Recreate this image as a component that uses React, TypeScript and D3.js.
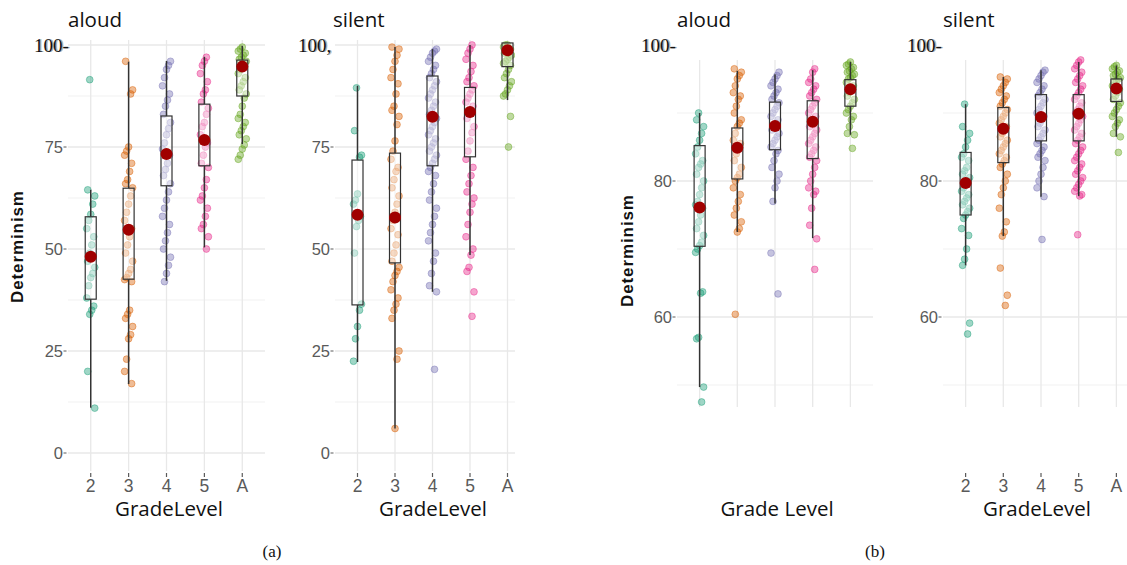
import React from 'react';
import * as d3 from 'd3';

// ---------- data ----------
const GRADES = ['2', '3', '4', '5', 'A'];
const GRADE_COLORS = ['#1B9E77', '#D95F02', '#7570B3', '#E7298A', '#66A61E'];

// (a) aloud
const aAloudG2 = [91.5, 64.5, 63, 61, 58.5, 57, 55, 53, 51, 49, 47, 45.5, 44, 43, 41, 38, 36, 35, 34, 20, 11];
const aAloudG3 = [96, 89, 88, 75, 74, 73, 71, 69, 67, 66, 65, 63, 61, 59, 57, 55, 53, 51, 49, 47, 45, 44, 43, 42.5, 42, 35, 34, 33, 31, 29, 28, 23, 20, 17];
const aAloudG4 = [96, 95, 94, 92, 90, 88, 86.5, 85, 83, 81, 79.5, 78, 76, 74.5, 73, 71, 69.5, 68, 66, 64, 62, 60, 58, 56, 54, 52, 50, 48, 46, 44, 42];
const aAloudG5 = [97, 96, 95, 93, 91, 89, 88, 86, 84.5, 83, 81, 80, 78, 76, 75, 73, 71, 70, 67, 65, 63, 62, 60, 58, 56, 55, 53, 50];
const aAloudGA = [99.5, 99, 98.5, 98, 97.5, 97, 96.5, 96, 95.5, 95, 94, 93, 92, 91, 90, 89, 88, 87, 85, 83, 82, 81, 80, 79, 78, 77, 75.5, 74.5, 73, 72];
const aAloudQ1 = [37.7, 42.6, 65.5, 70.4, 87.5];
const aAloudQ3 = [57.9, 64.9, 82.6, 85.5, 96.3];
const aAloudLow = [11.1, 16.9, 42.2, 50.4, 75.7];
const aAloudHigh = [64.5, 95.9, 96.1, 97.1, 99.8];
const aAloudMean = [48.1, 54.7, 73.3, 76.7, 94.7];

// (a) silent
const aSilentG2 = [89.5, 79, 73, 72.5, 63.5, 62, 61, 58, 57, 55.5, 49, 36.5, 35, 31, 28, 22.5];
const aSilentG3 = [99.5, 99, 97.5, 96, 94, 92, 90.5, 88, 85, 84, 82.5, 80.5, 76.5, 74, 72, 70, 69, 67, 65, 63, 61, 59, 57, 55, 53.5, 51, 49, 47, 45.5, 44.5, 43.5, 42, 40, 38, 36.5, 35, 33, 25, 23, 6];
const aSilentG4 = [99, 98.5, 98, 97, 96, 95, 94, 93, 92, 91, 90, 89, 88, 87, 86, 85, 84, 83, 82, 81, 80, 79, 78, 77, 76, 75, 74, 73, 72, 71, 70, 69, 68, 66, 64, 62, 60, 58, 56, 54, 52, 49, 47, 44, 41, 39.5, 20.5];
const aSilentG5 = [100, 99, 98, 96.5, 95, 93.5, 92, 91, 90, 89, 88, 87, 86, 85, 84, 83, 82, 80, 78.5, 76.5, 74, 72, 70, 68, 66, 64, 62.5, 61, 59, 56, 53, 50, 48.5, 45.5, 44.5, 39.5, 33.5];
const aSilentGA = [100, 100, 99.5, 99, 99, 98.5, 98, 97.5, 97, 96.5, 96, 95.5, 95, 94, 93, 92, 91, 90, 89, 88, 87.5, 82.5, 75];
const aSilentQ1 = [36.3, 46.6, 70.4, 72.6, 94.7];
const aSilentQ3 = [71.8, 73.5, 92.4, 89.6, 100.5];
const aSilentLow = [22.3, 6, 39.5, 48.5, 86.5];
const aSilentHigh = [90, 99.5, 99, 100, 100.5];
const aSilentMean = [58.4, 57.7, 82.4, 83.6, 98.7];

// (b) aloud
const bAloudG2 = [90, 89, 88, 87, 86, 85, 84, 83, 82.5, 82, 81, 80, 79, 78, 77, 76.5, 76, 75, 74, 73, 72, 71, 70.5, 70, 69.5, 63.7, 63.5, 57, 56.8, 49.7, 47.5];
const bAloudG3 = [96.5, 96, 95.5, 95, 94, 93, 92.5, 92, 91, 90, 89, 88.5, 88, 87, 86, 85.5, 85, 84, 83, 82, 81, 80.5, 80, 79, 78, 77, 76, 75, 74, 73, 72.5, 60.4];
const bAloudG4 = [96, 95.5, 95, 94.5, 94, 93.5, 93, 92.5, 92, 91.5, 91, 90.5, 90, 89.5, 89, 88.5, 88, 87.5, 87, 86.5, 86, 85.5, 85, 84.5, 84, 83, 82, 81, 80, 79, 77, 69.4, 63.4];
const bAloudG5 = [96.5, 96, 95, 94.5, 94, 93.5, 93, 92.5, 92, 91.5, 91, 90.5, 90, 89.5, 89, 88.5, 88, 87.5, 87, 86.5, 86, 85.5, 85, 84.5, 84, 83.5, 83, 82, 81, 80, 79, 78.5, 78, 76, 73.5, 71.5, 67];
const bAloudGA = [97.5, 97.2, 97, 96.7, 96.5, 96.2, 96, 95.7, 95.5, 95.2, 95, 94.5, 94, 93.5, 93, 92.5, 92, 91.5, 91, 90.5, 90, 89.5, 89, 88, 87, 86.8, 84.8];
const bAloudQ1 = [70.4, 80.3, 84.6, 83.3, 91];
const bAloudQ3 = [85.2, 87.8, 91.6, 91.8, 94.9];
const bAloudLow = [49.7, 72.5, 76.7, 71.6, 86.8];
const bAloudHigh = [90, 96.2, 95.7, 96.3, 97.5];
const bAloudMean = [76.1, 84.9, 88.1, 88.7, 93.5];

// (b) silent
const bSilentG2 = [91.3, 88, 87, 86, 85, 84, 83.5, 83, 82, 81.5, 81, 80.5, 80, 79.5, 79, 78.5, 78, 77.5, 77, 76.5, 76, 75.5, 75, 74.5, 73, 72, 70, 68.5, 67.6, 59.1, 57.5];
const bSilentG3 = [95.3, 95, 94.5, 94, 93.5, 93, 92.5, 92, 91.5, 91, 90.5, 90, 89.5, 89, 88.5, 88, 87.5, 87, 86.5, 86, 85.5, 85, 84.5, 84, 83.5, 83, 82.5, 82, 81, 80, 79, 78, 76, 74, 72.5, 71.9, 67.2, 63.2, 61.7];
const bSilentG4 = [96.3, 96, 95.5, 95, 94.5, 94, 93.5, 93, 92.5, 92, 91.5, 91, 90.5, 90, 89.5, 89, 88.5, 88, 87.5, 87, 86.5, 86, 85.5, 85, 84.5, 84, 83.5, 83, 82, 81, 80, 79, 77.7, 71.4];
const bSilentG5 = [97.8, 97.5, 97, 96.5, 96, 95.5, 95, 94.5, 94, 93.5, 93, 92.5, 92, 91.5, 91, 90.5, 90, 89.5, 89, 88.5, 88, 87.5, 87, 86.5, 86, 85.5, 85, 84.5, 84, 83.5, 83, 82.5, 82, 81.5, 81, 80.5, 80, 79.5, 79, 78.5, 78, 77.8, 72.1];
const bSilentGA = [97, 96.8, 96.5, 96.2, 96, 95.7, 95.5, 95.2, 95, 94.7, 94.5, 94, 93.5, 93, 92.5, 92, 91.5, 91, 90.5, 90, 89.5, 89, 88.5, 88, 87, 86.5, 84.2];
const bSilentQ1 = [75, 82.7, 85.9, 85.9, 91.7];
const bSilentQ3 = [84.2, 90.8, 92.7, 92.7, 95];
const bSilentLow = [67.6, 71.9, 77.7, 77.8, 86.5];
const bSilentHigh = [91.3, 95.3, 96.3, 97.5, 97];
const bSilentMean = [79.7, 87.7, 89.4, 89.9, 93.6];

const A_TICKS = [0, 25, 50, 75];
const A_MINOR = [12.5, 37.5, 62.5, 87.5];
const B_TICKS = [60, 80];
const B_MINOR = [50, 70, 90];

// ---------- layout ----------
const SANS = '"Liberation Sans", Arial, sans-serif';
const TITLE_FONT = '"Open Sans", sans-serif';
const SERIF = '"Liberation Serif", "Times New Roman", serif';

type PanelSpec = {
  id: string;
  x0: number; x1: number; clipX1: number;
  top: number; bottom: number;
  yDomain: [number, number]; yRange: [number, number];
  ticks: number[]; minor: number[]; majorTop: number | null;
  groups: number[][]; q1: number[]; q3: number[]; low: number[]; high: number[]; mean: number[];
  title: string; titleX: number;
  xTitle: string; xTitleX: number;
  showXTicks: boolean;
  serifLabel: string; serifX: number;
  yLabelX: number | null; yLabelY: number;
};

const panels: PanelSpec[] = [
  {
    id: 'aa', x0: 68, x1: 265, clipX1: 265, top: 40, bottom: 471,
    yDomain: [0, 100], yRange: [453, 45], ticks: A_TICKS, minor: A_MINOR, majorTop: 100,
    groups: [aAloudG2, aAloudG3, aAloudG4, aAloudG5, aAloudGA],
    q1: aAloudQ1, q3: aAloudQ3, low: aAloudLow, high: aAloudHigh, mean: aAloudMean,
    title: 'aloud', titleX: 68, xTitle: 'GradeLevel', xTitleX: 169, showXTicks: true,
    serifLabel: '100-', serifX: 34, yLabelX: 17, yLabelY: 247,
  },
  {
    id: 'as', x0: 335, x1: 530, clipX1: 515, top: 40, bottom: 471,
    yDomain: [0, 100], yRange: [453, 45], ticks: A_TICKS, minor: A_MINOR, majorTop: 100,
    groups: [aSilentG2, aSilentG3, aSilentG4, aSilentG5, aSilentGA],
    q1: aSilentQ1, q3: aSilentQ3, low: aSilentLow, high: aSilentHigh, mean: aSilentMean,
    title: 'silent', titleX: 333, xTitle: 'GradeLevel', xTitleX: 433, showXTicks: true,
    serifLabel: '100,', serifX: 298, yLabelX: null, yLabelY: 0,
  },
  {
    id: 'ba', x0: 677, x1: 873, clipX1: 873, top: 60, bottom: 407,
    yDomain: [60, 80], yRange: [317, 181], ticks: B_TICKS, minor: B_MINOR, majorTop: null,
    groups: [bAloudG2, bAloudG3, bAloudG4, bAloudG5, bAloudGA],
    q1: bAloudQ1, q3: bAloudQ3, low: bAloudLow, high: bAloudHigh, mean: bAloudMean,
    title: 'aloud', titleX: 677, xTitle: 'Grade Level', xTitleX: 777, showXTicks: false,
    serifLabel: '100-', serifX: 641, yLabelX: 627, yLabelY: 251,
  },
  {
    id: 'bs', x0: 943, x1: 1139, clipX1: 1127, top: 60, bottom: 407,
    yDomain: [60, 80], yRange: [317, 181], ticks: B_TICKS, minor: B_MINOR, majorTop: null,
    groups: [bSilentG2, bSilentG3, bSilentG4, bSilentG5, bSilentGA],
    q1: bSilentQ1, q3: bSilentQ3, low: bSilentLow, high: bSilentHigh, mean: bSilentMean,
    title: 'silent', titleX: 943, xTitle: 'GradeLevel', xTitleX: 1037, showXTicks: true,
    serifLabel: '100-', serifX: 907, yLabelX: null, yLabelY: 0,
  },
];

const jitter = (i: number) => ((((i * 7 + 3) % 9) - 4) * 1.0);

function Panel({ p }: { p: PanelSpec }) {
  const x = d3.scalePoint<string>().domain(GRADES).range([p.x0, p.x1]).padding(0.6);
  const y = d3.scaleLinear().domain(p.yDomain).range(p.yRange);
  const boxW = 11;
  const clipId = `clip-${p.id}`;
  const majors = p.majorTop !== null ? [...p.ticks, p.majorTop] : p.ticks;
  const inPlot = (v: number) => y(v) >= p.top - 0.5 && y(v) <= p.bottom + 0.5;
  return (
    <g>
      <defs>
        <clipPath id={clipId}>
          <rect x={p.x0} y={p.top - 8} width={p.clipX1 - p.x0} height={p.bottom - p.top + 16} />
        </clipPath>
      </defs>
      <g clipPath={`url(#${clipId})`}>
        {p.minor.filter(inPlot).map((v) => (
          <line key={`mn${v}`} x1={p.x0} x2={p.x1} y1={y(v)} y2={y(v)} stroke="#EDEDED" strokeWidth={0.8} />
        ))}
        {majors.filter(inPlot).map((v) => (
          <line key={`mj${v}`} x1={p.x0} x2={p.x1} y1={y(v)} y2={y(v)} stroke="#E8E8E8" strokeWidth={1.3} />
        ))}
        {GRADES.map((g) => (
          <line key={`vg${g}`} x1={x(g)!} x2={x(g)!} y1={p.top} y2={p.bottom} stroke="#E8E8E8" strokeWidth={1.3} />
        ))}
        {p.groups.map((vals, gi) =>
          vals.map((v, i) => (
            <circle
              key={`pt${gi}-${i}`}
              cx={x(GRADES[gi])! + jitter(i + gi)}
              cy={y(v)}
              r={3.4}
              fill={GRADE_COLORS[gi]}
              fillOpacity={0.42}
              stroke={GRADE_COLORS[gi]}
              strokeOpacity={0.55}
              strokeWidth={0.8}
            />
          ))
        )}
        {GRADES.map((g, gi) => {
          const cx = x(g)!;
          return (
            <g key={`bx${g}`}>
              <line x1={cx} x2={cx} y1={y(p.low[gi])} y2={y(p.q1[gi])} stroke="#333" strokeWidth={1.5} />
              <line x1={cx} x2={cx} y1={y(p.q3[gi])} y2={y(p.high[gi])} stroke="#333" strokeWidth={1.5} />
              <rect
                x={cx - boxW / 2}
                y={y(p.q3[gi])}
                width={boxW}
                height={y(p.q1[gi]) - y(p.q3[gi])}
                fill="#fff"
                fillOpacity={0.45}
                stroke="#333"
                strokeWidth={1.2}
              />
            </g>
          );
        })}
        {GRADES.map((g, gi) => (
          <circle key={`mean${g}`} cx={x(g)!} cy={y(p.mean[gi])} r={6} fill="#A00000" />
        ))}
      </g>
      {p.ticks.map((v) => (
        <g key={`yt${v}`}>
          <text x={p.x0 - 5} y={y(v)} dy="0.36em" textAnchor="end" fontFamily={SANS} fontSize={16.5} fill="#5a5a5a">
            {v}
          </text>
          <line x1={p.x0 - 4.5} x2={p.x0 - 1.5} y1={y(v)} y2={y(v)} stroke="#5a5a5a" strokeWidth={1} />
        </g>
      ))}
      <text x={p.serifX} y={y(100) + 6.5} fontFamily={SERIF} fontSize={19} fill="#111">{p.serifLabel}</text>
      <text x={p.serifX + 1.6} y={y(100) + 6.5} fontFamily={SERIF} fontSize={19} fill="#111" fillOpacity={0.35}>{p.serifLabel}</text>
      {p.showXTicks &&
        GRADES.map((g) => (
          <g key={`xt${g}`}>
            <line x1={x(g)!} x2={x(g)!} y1={473} y2={477} stroke="#5a5a5a" strokeWidth={1.2} />
            <text x={x(g)!} y={492} textAnchor="middle" fontFamily={SANS} fontSize={17.5} fill="#5a5a5a">{g}</text>
          </g>
        ))}
      <text x={p.titleX} y={27} fontFamily={TITLE_FONT} fontSize={20.5} fill="#111">{p.title}</text>
      <text x={p.xTitleX} y={516} textAnchor="middle" fontFamily={TITLE_FONT} fontSize={20.5} fill="#111">{p.xTitle}</text>
      {p.yLabelX !== null && (
        <text
          transform={`translate(${p.yLabelX + 6},${p.yLabelY}) rotate(-90)`}
          textAnchor="middle"
          fontFamily={SANS}
          fontWeight="bold"
          fontSize={17}
          fill="#111"
          textLength={112}
          lengthAdjust="spacing"
        >
          Determinism
        </text>
      )}
    </g>
  );
}

export default function App() {
  return (
    <svg
      width={1127}
      height={565}
      viewBox="0 0 1127 565"
      style={{ position: 'absolute', left: 0, top: 0, background: '#fff' }}
    >
      <rect x={0} y={0} width={1127} height={565} fill="#fff" />
      {panels.map((p) => (
        <Panel key={p.id} p={p} />
      ))}
      <text x={272} y={557} textAnchor="middle" fontFamily={SERIF} fontSize={17} fill="#111">(a)</text>
      <text x={875} y={557} textAnchor="middle" fontFamily={SERIF} fontSize={17} fill="#111">(b)</text>
    </svg>
  );
}
